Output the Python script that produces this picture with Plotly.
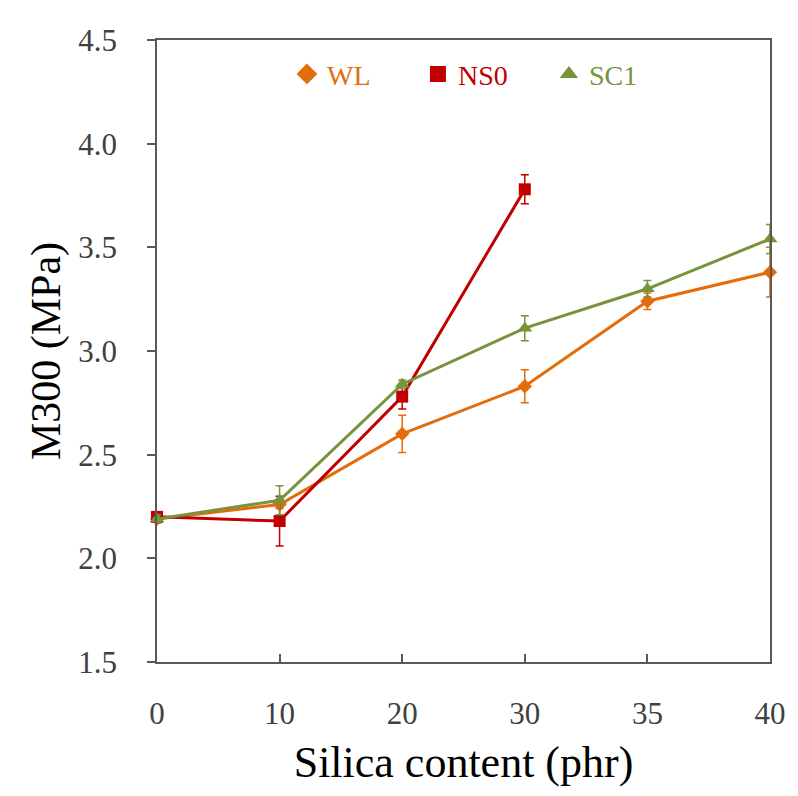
import plotly.graph_objects as go

categories = ["0", "10", "20", "30", "35", "40"]

wl_values = [2.19, 2.26, 2.60, 2.83, 3.24, 3.38]
wl_errors = [0.02, 0.02, 0.09, 0.08, 0.04, 0.12]

ns0_categories = ["0", "10", "20", "30"]
ns0_values = [2.20, 2.18, 2.78, 3.78]
ns0_errors = [0.02, 0.12, 0.06, 0.07]

sc1_values = [2.19, 2.28, 2.84, 3.11, 3.30, 3.54]
sc1_errors = [0.02, 0.07, 0.02, 0.06, 0.04, 0.07]

# name, x, y, err, colour, symbol, plot marker size, legend marker size
series = [
    ("WL", categories, wl_values, wl_errors, "#E46C0A", "diamond", 11, 19),
    ("NS0", ns0_categories, ns0_values, ns0_errors, "#C00000", "square", 12, 17),
    ("SC1", categories, sc1_values, sc1_errors, "#77933C", "triangle-up", 13, 19),
]

FONT = "Liberation Serif, Times New Roman, serif"

fig = go.Figure()
for name, xs, ys, errs, color, symbol, size, lsize in series:
    fig.add_trace(go.Scatter(
        x=xs, y=ys, mode="lines+markers", showlegend=False,
        line=dict(color=color, width=3),
        marker=dict(symbol=symbol, size=size, color=color),
        error_y=dict(type="data", array=errs, visible=True, color=color, thickness=1.5, width=4),
        cliponaxis=False,
    ))
for name, xs, ys, errs, color, symbol, size, lsize in series:
    fig.add_trace(go.Scatter(
        x=[None], y=[None], mode="markers",
        name=f"<span style='color:{color}'>{name}</span>",
        marker=dict(symbol=symbol, size=lsize, color=color),
    ))

fig.update_layout(
    width=790, height=788,
    margin=dict(l=149, r=20, t=32, b=134),
    paper_bgcolor="white", plot_bgcolor="white",
    font=dict(family=FONT, size=30, color="#404040"),
    legend=dict(
        orientation="h", x=0.212, y=0.945, xanchor="left", yanchor="middle",
        font=dict(family=FONT, size=28),
        bgcolor="rgba(0,0,0,0)", entrywidth=86, entrywidthmode="pixels",
        itemsizing="trace",
    ),
)
fig.update_xaxes(
    type="category", categoryorder="array", categoryarray=categories,
    range=[0, 5], showgrid=False, zeroline=False,
    showline=True, linecolor="#595959", linewidth=1.5, mirror=True,
    ticks="inside", ticklen=8, tickcolor="#595959", tickwidth=1.5,
    ticklabelstandoff=23,
    tickfont=dict(family=FONT, size=31, color="#404040"),
    title=dict(text="Silica content (phr)", font=dict(family=FONT, size=44, color="black"), standoff=16),
)
fig.update_yaxes(
    range=[1.5, 4.5], dtick=0.5, tickformat=".1f", showgrid=False, zeroline=False,
    showline=True, linecolor="#595959", linewidth=1.5, mirror=True,
    ticks="outside", ticklen=8, tickcolor="#595959", tickwidth=1.5,
    ticklabelstandoff=24,
    tickfont=dict(family=FONT, size=31, color="#404040"),
    title=dict(text="M300 (MPa)", font=dict(family=FONT, size=42, color="black"), standoff=5),
)

fig.write_html("out.html")
